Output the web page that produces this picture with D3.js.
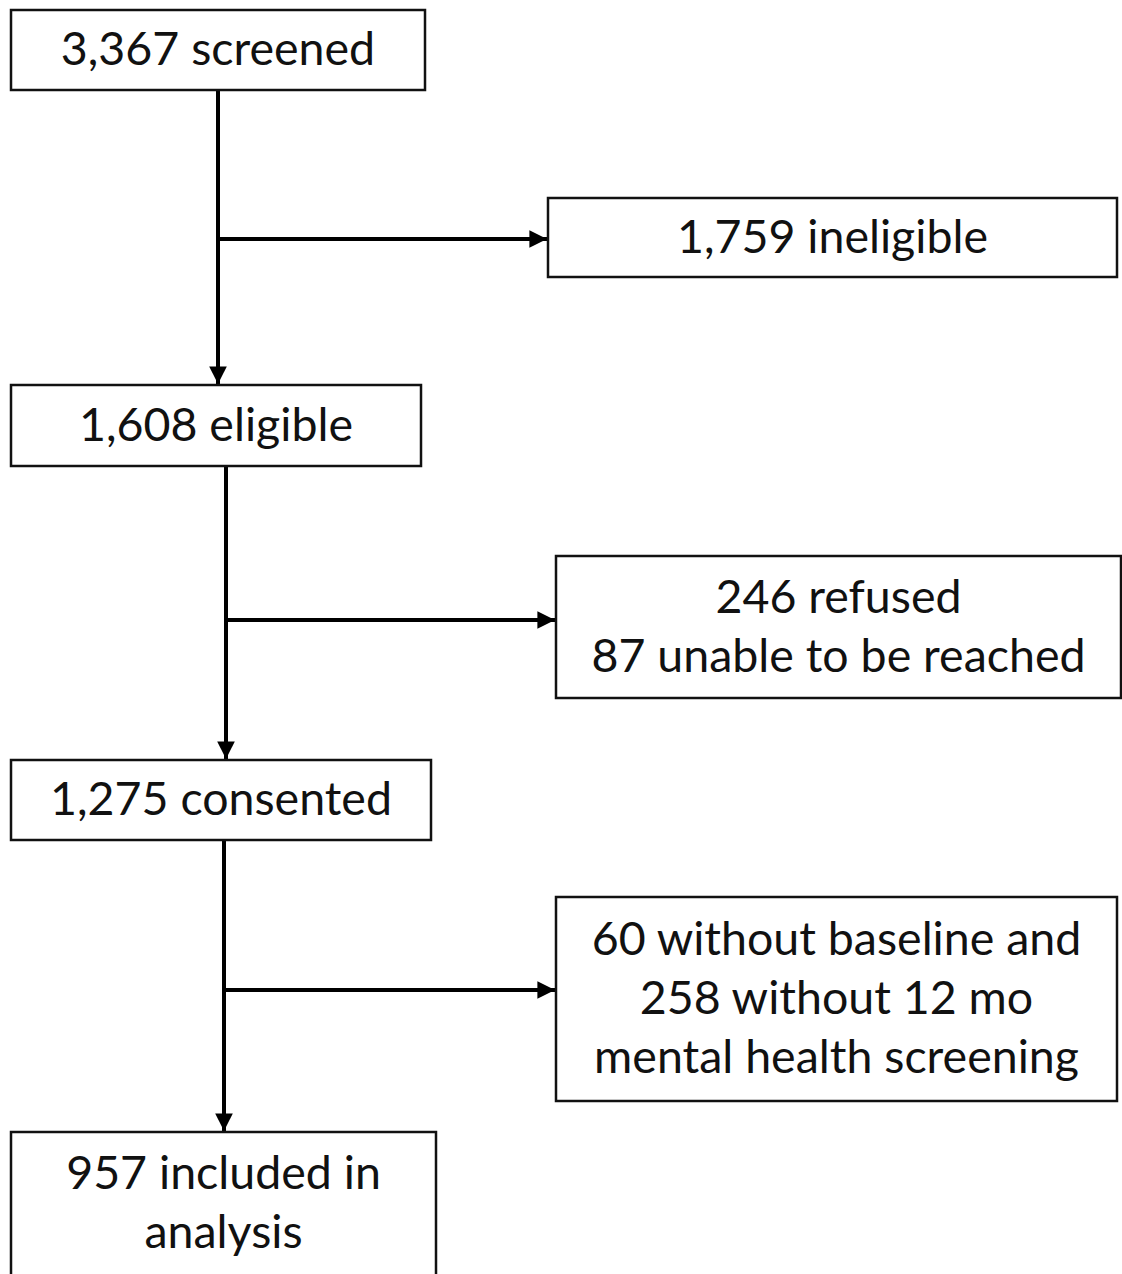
<!DOCTYPE html>
<html>
<head>
    <style>
        body { margin: 0; background: #fff; }
        svg text { font-family: Lato, "Open Sans", sans-serif; fill: #111; }
    </style>
</head>
<body>
    <svg width="1122" height="1274"></svg>

    <script src="https://d3js.org/d3.v7.min.js"></script>
    <script>
        // Flow data
        const mainSteps = [
            ["3,367 screened"],
            ["1,608 eligible"],
            ["1,275 consented"],
            ["957 included in", "analysis"]
        ];
        const exclusions = [
            ["1,759 ineligible"],
            ["246 refused", "87 unable to be reached"],
            ["60 without baseline and", "258 without 12 mo", "mental health screening"]
        ];

        // Layout (pixels) kept apart from the data
        const mainLayout = [
            {x0: 11, x1: 425, y0: 10, y1: 90},
            {x0: 11, x1: 421, y0: 385, y1: 466},
            {x0: 11, x1: 431, y0: 760, y1: 840},
            {x0: 11, x1: 436, y0: 1132, y1: 1290}
        ];
        const sideLayout = [
            {x0: 548, x1: 1117, y0: 198, y1: 277},
            {x0: 556, x1: 1121, y0: 556, y1: 698},
            {x0: 556, x1: 1117, y0: 897, y1: 1101}
        ];
        const spineX = [218, 226, 224];
        const branchY = [239, 620, 990];

        const svg = d3.select("svg");
        const fontSize = 46.5, lineH = 59;

        svg.append("defs").append("marker")
            .attr("id", "arrow")
            .attr("viewBox", "0 0 10 10")
            .attr("refX", 10).attr("refY", 5)
            .attr("markerWidth", 4.8).attr("markerHeight", 4.4)
            .attr("markerUnits", "strokeWidth")
            .attr("orient", "auto")
            .append("path")
            .attr("d", "M0,0 L10,5 L0,10 Z")
            .attr("fill", "#000");

        const boxes = mainSteps.map((lines, i) => ({lines, ...mainLayout[i]}))
            .concat(exclusions.map((lines, i) => ({lines, ...sideLayout[i]})));

        // Connectors
        const conn = svg.append("g")
            .attr("stroke", "#000")
            .attr("stroke-width", 4)
            .attr("fill", "none");

        spineX.forEach((x, i) => {
            conn.append("line")
                .attr("x1", x).attr("y1", mainLayout[i].y1)
                .attr("x2", x).attr("y2", mainLayout[i + 1].y0 - 1)
                .attr("marker-end", "url(#arrow)");
            conn.append("line")
                .attr("x1", x).attr("y1", branchY[i])
                .attr("x2", sideLayout[i].x0 - 1).attr("y2", branchY[i])
                .attr("marker-end", "url(#arrow)");
        });

        // Boxes
        const g = svg.append("g")
            .selectAll("g")
            .data(boxes)
            .join("g");

        g.append("rect")
            .attr("x", d => d.x0)
            .attr("y", d => d.y0)
            .attr("width", d => d.x1 - d.x0)
            .attr("height", d => d.y1 - d.y0)
            .attr("fill", "#fff")
            .attr("stroke", "#111")
            .attr("stroke-width", 2.5);

        g.append("text")
            .attr("text-anchor", "middle")
            .attr("font-size", fontSize)
            .selectAll("tspan")
            .data(d => d.lines.map((t, k) => ({t, k, d})))
            .join("tspan")
            .attr("x", o => (o.d.x0 + o.d.x1) / 2)
            .attr("y", o => {
                const h = Math.min(o.d.y1, 1274) - o.d.y0;
                const mid = o.d.y0 + (o.d.y1 > 1274 ? 142 : h) / 2;
                return mid + (o.k - (o.d.lines.length - 1) / 2) * lineH + 30 * 0.5;
            })
            .text(o => o.t);
    </script>
</body>
</html>
